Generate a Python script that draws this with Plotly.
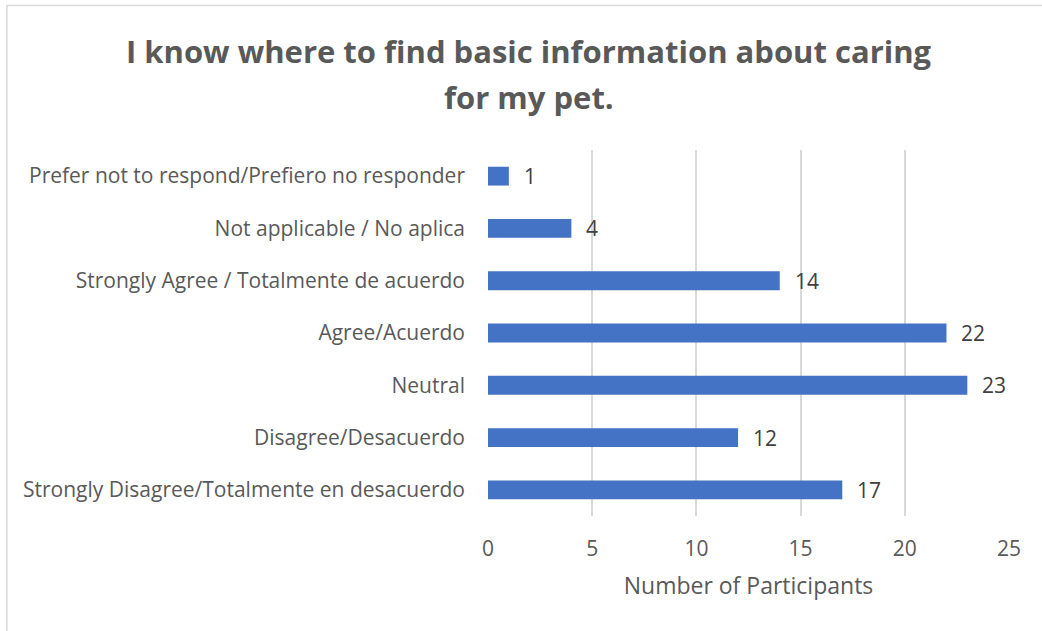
import plotly.graph_objects as go

# Survey responses, listed bottom-to-top as they appear on the category axis
categories = [
    "Strongly Disagree/Totalmente en desacuerdo",
    "Disagree/Desacuerdo",
    "Neutral",
    "Agree/Acuerdo",
    "Strongly Agree / Totalmente de acuerdo",
    "Not applicable / No aplica",
    "Prefer not to respond/Prefiero no responder",
]
participants = [17, 12, 23, 22, 14, 4, 1]

x_ticks = [0, 5, 10, 15, 20, 25]
title_lines = ["I know where to find basic information about caring", "for my pet."]

TEXT = "#595959"
FONT = "Open Sans"
BAR = "#4472C4"
GRID = "#D9D9D9"

W, H = 1042, 631
PLOT_L, PLOT_R, PLOT_T, PLOT_B = 487.5, 1009.5, 150, 516


def px_to_paper_x(px):
    return (px - PLOT_L) / (PLOT_R - PLOT_L)


def px_to_paper_y(py):
    return (PLOT_B - py) / (PLOT_B - PLOT_T)


fig = go.Figure(
    go.Bar(
        y=categories,
        x=participants,
        orientation="h",
        marker=dict(color=BAR, line=dict(width=0)),
        width=0.36,
        hoverinfo="x+y",
    )
)

# Value labels just past the end of each bar
for cat, val in zip(categories, participants):
    fig.add_annotation(
        x=val, y=cat, xref="x", yref="y",
        text=str(val), showarrow=False,
        xanchor="left", xshift=13,
        font=dict(family=FONT, size=21, color="#404040"),
    )

# Two-line bold title
for line, cy in zip(title_lines, [51, 97]):
    fig.add_annotation(
        x=px_to_paper_x(529), y=px_to_paper_y(cy), xref="paper", yref="paper",
        text=f"<b>{line}</b>", showarrow=False,
        xanchor="center", yanchor="middle",
        font=dict(family=FONT, size=31, color=TEXT),
    )

# Thin light frame around the whole chart
fig.add_shape(
    type="rect", xref="paper", yref="paper",
    x0=px_to_paper_x(5.5), x1=px_to_paper_x(1060),
    y0=px_to_paper_y(650), y1=px_to_paper_y(5.5),
    line=dict(color=GRID, width=1.5), fillcolor="rgba(0,0,0,0)", layer="below",
)

fig.update_layout(
    width=W,
    height=H,
    paper_bgcolor="white",
    plot_bgcolor="white",
    margin=dict(l=PLOT_L, r=W - PLOT_R, t=PLOT_T, b=H - PLOT_B),
    showlegend=False,
    font=dict(family=FONT, color=TEXT),
    xaxis=dict(
        range=[0, 25],
        tickvals=x_ticks,
        ticktext=[str(t) for t in x_ticks],
        showgrid=True, gridcolor=GRID, gridwidth=1.5,
        zeroline=False, showline=False,
        ticks="", ticklabelstandoff=18,
        tickfont=dict(family=FONT, size=21, color=TEXT),
        title=dict(text="Number of Participants", standoff=16,
                   font=dict(family=FONT, size=23, color=TEXT)),
        fixedrange=True,
    ),
    yaxis=dict(
        categoryorder="array", categoryarray=categories,
        showgrid=False, zeroline=False, showline=False,
        ticks="", ticklabelstandoff=22,
        tickfont=dict(family=FONT, size=21, color=TEXT),
        fixedrange=True,
    ),
)

fig.write_html("out.html")
